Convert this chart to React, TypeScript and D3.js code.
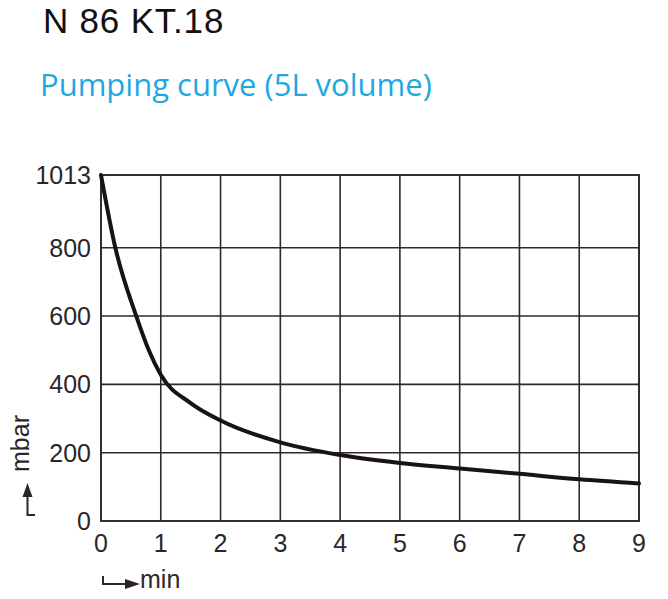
import React from "react";
import * as d3 from "d3";

const title = "N 86 KT.18";
const subtitle = "Pumping curve (5L volume)";
const xTicks = [0, 1, 2, 3, 4, 5, 6, 7, 8, 9];
const yTicks = [0, 200, 400, 600, 800, 1013];
const minutes = [0, 0.24, 0.59, 0.8, 1, 1.5, 2, 3, 4, 5, 6, 7, 8, 9];
const pressure = [1013, 800, 600, 500, 428, 345, 294, 230, 193, 170, 154, 138, 122, 110];
const xUnit = "min";
const yUnit = "mbar";

export default function App() {
  const W = 668;
  const H = 599;
  const left = 101;
  const right = 639;
  const top = 175;
  const bottom = 521;
  const x = d3.scaleLinear().domain([0, 9]).range([left, right]);
  const y = d3.scaleLinear().domain([0, 1013]).range([bottom, top]);
  const pts: [number, number][] = minutes.map((m, i) => [m, pressure[i]]);
  const line = d3
    .line<[number, number]>()
    .x((d) => x(d[0]))
    .y((d) => y(d[1]))
    .curve(d3.curveMonotoneX);
  const gridColor = "#2e2a2a";
  const textColor = "#2b2728";
  const font = "'Liberation Sans', Arial, sans-serif";

  return (
    <svg
      width={W}
      height={H}
      style={{ position: "absolute", left: 0, top: 0, background: "#fff" }}
    >
      <text x={43} y={33} fontFamily={font} fontSize={35} fill="#111" letterSpacing={0.8}>
        {title}
      </text>
      <text x={40} y={96} fontFamily="'Open Sans', 'Noto Sans', sans-serif" fontSize={31} fill="#1fa8e0">
        {subtitle}
      </text>

      {xTicks.map((t) => (
        <line key={"vx" + t} x1={x(t)} x2={x(t)} y1={top} y2={bottom} stroke={gridColor} strokeWidth={1.6} />
      ))}
      {yTicks.map((t) => (
        <line key={"hy" + t} x1={left} x2={right} y1={y(t)} y2={y(t)} stroke={gridColor} strokeWidth={1.6} />
      ))}
      <rect x={left} y={top} width={right - left} height={bottom - top} fill="none" stroke={gridColor} strokeWidth={1.8} />

      <path d={line(pts) || ""} fill="none" stroke="#1b1213" strokeWidth={4} strokeLinejoin="round" strokeLinecap="round" />

      {yTicks.map((t) => (
        <text key={"ly" + t} x={91} y={y(t) + 9} textAnchor="end" fontFamily={font} fontSize={25} fill={textColor}>
          {t}
        </text>
      ))}
      {xTicks.map((t) => (
        <text key={"lx" + t} x={x(t)} y={552} textAnchor="middle" fontFamily={font} fontSize={25} fill={textColor}>
          {t}
        </text>
      ))}

      {/* x unit with arrow */}
      <path d="M103,576 L103,584 L126,584" fill="none" stroke={textColor} strokeWidth={2} />
      <path d="M125,579 L140,584 L125,589 Z" fill={textColor} />
      <text x={140} y={588} fontFamily={font} fontSize={25} fill={textColor}>
        {xUnit}
      </text>

      {/* y unit with arrow */}
      <path d="M35,515 L27.5,515 L27.5,495" fill="none" stroke={textColor} strokeWidth={2} />
      <path d="M22.5,497 L27.5,483 L32.5,497 Z" fill={textColor} />
      <text
        transform="translate(29,472) rotate(-90)"
        fontFamily={font}
        fontSize={25}
        fill={textColor}
      >
        {yUnit}
      </text>
    </svg>
  );
}
